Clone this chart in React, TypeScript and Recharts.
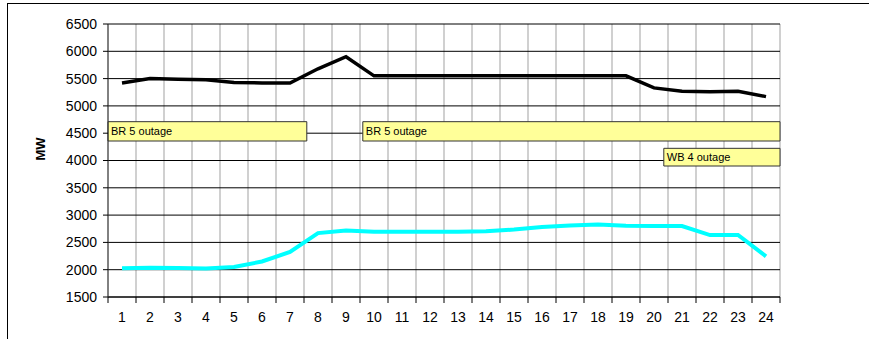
import React from "react";
import {
  LineChart,
  Line,
  XAxis,
  YAxis,
  CartesianGrid,
  ReferenceArea,
} from "recharts";

const hours = [1, 2, 3, 4, 5, 6, 7, 8, 9, 10, 11, 12, 13, 14, 15, 16, 17, 18, 19, 20, 21, 22, 23, 24];
const upperMw = [5420, 5500, 5490, 5480, 5430, 5420, 5420, 5680, 5900, 5550, 5550, 5550, 5550, 5550, 5550, 5550, 5550, 5550, 5550, 5330, 5270, 5260, 5270, 5170];
const lowerMw = [2025, 2035, 2030, 2020, 2050, 2150, 2325, 2670, 2720, 2695, 2695, 2695, 2695, 2705, 2735, 2780, 2810, 2830, 2805, 2800, 2800, 2635, 2635, 2245];
const yTicks = [1500, 2000, 2500, 3000, 3500, 4000, 4500, 5000, 5500, 6000, 6500];
const xTicks = [0, ...hours];

const outages = [
  { label: "BR 5 outage", from: 0, to: 7.1, low: 4357, high: 4711 },
  { label: "BR 5 outage", from: 9.1, to: 24, low: 4357, high: 4711 },
  { label: "WB 4  outage", from: 19.85, to: 24, low: 3899, high: 4223 },
];

const data = hours.map((h, i) => ({ x: h - 0.5, upper: upperMw[i], lower: lowerMw[i] }));

const W = 869;
const H = 339;
const MARGIN = { top: 24, right: 89, left: 48, bottom: 12 };
const Y_AXIS_W = 60;
const HALF_BAND = (W - MARGIN.left - Y_AXIS_W - MARGIN.right) / hours.length / 2;
const FONT = "'Liberation Sans', Arial, sans-serif";

function HourTick(props: any) {
  const { x, y, payload } = props;
  if (payload.value === 0) return null;
  return (
    <text x={x - HALF_BAND} y={y} dy={17} textAnchor="middle" fontSize={14} fill="#000" fontFamily={FONT}>
      {payload.value}
    </text>
  );
}

export default function App() {
  return (
    <div style={{ position: "relative", width: W, height: H, overflow: "hidden", fontFamily: FONT }}>
      <style>{`body{margin:0}`}</style>
      <div
        style={{
          position: "absolute",
          left: 7,
          top: 3,
          width: W,
          height: H,
          borderLeft: "1.5px solid #000",
          borderTop: "1.5px solid #000",
        }}
      />
      <div style={{ position: "absolute", left: 0, top: 0 }}>
        <LineChart width={W} height={H} data={data} margin={MARGIN}>
          <CartesianGrid horizontal={false} stroke="#c0c0c0" strokeWidth={1.5} />
          <CartesianGrid vertical={false} stroke="#000" strokeWidth={1} />
          <XAxis
            dataKey="x"
            type="number"
            domain={[0, 24]}
            ticks={xTicks}
            interval={0}
            tick={<HourTick />}
            tickSize={6}
            axisLine={{ stroke: "#000" }}
            tickLine={{ stroke: "#000" }}
            height={30}
          />
          <YAxis
            domain={[1500, 6500]}
            ticks={yTicks}
            interval={0}
            width={Y_AXIS_W}
            tickSize={5}
            tickMargin={6}
            tick={{ fontSize: 14, fill: "#000", fontFamily: FONT }}
            axisLine={{ stroke: "#333" }}
            tickLine={{ stroke: "#000" }}
            label={{
              value: "MW",
              angle: -90,
              position: "insideLeft",
              offset: -8,
              style: { fontSize: 13, fontWeight: "bold", fill: "#000", fontFamily: FONT },
            }}
          />
          {outages.map((o, i) => (
            <ReferenceArea
              key={i}
              x1={o.from}
              x2={o.to}
              y1={o.low}
              y2={o.high}
              fill="#ffff99"
              fillOpacity={1}
              stroke="#333"
              strokeWidth={1}
              ifOverflow="visible"
              label={{ value: o.label, position: "insideLeft", offset: 3, fill: "#000", fontSize: 11, fontFamily: FONT }}
            />
          ))}
          <Line type="linear" dataKey="upper" stroke="#000" strokeWidth={3.5} dot={false} isAnimationActive={false} />
          <Line type="linear" dataKey="lower" stroke="#00ffff" strokeWidth={4} dot={false} isAnimationActive={false} />
        </LineChart>
      </div>
    </div>
  );
}
